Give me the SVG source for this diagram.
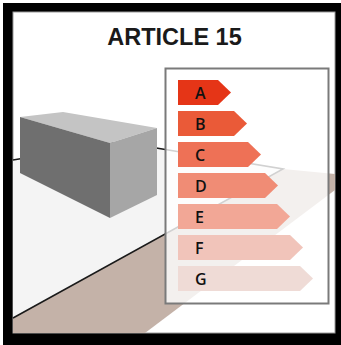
<svg xmlns="http://www.w3.org/2000/svg" width="341" height="345" viewBox="0 0 341 345">
  <style>
    .title { font-family: "Liberation Sans", Arial, sans-serif; font-weight: bold; font-size: 23.5px; fill: #1a1a1a; }
    .lbl { font-family: "Open Sans", "DejaVu Sans", sans-serif; font-weight: 600; font-size: 16px; fill: #111; }
    .edge { stroke: #1a1a1a; stroke-width: 1.6; fill: none; }
  </style>

  <!-- frame -->
  <rect x="3" y="3" width="338" height="342" fill="#000"/>
  <rect x="13" y="12" width="322" height="321" fill="#fff" stroke="#9a9a9a" stroke-width="1"/>

  <!-- title -->
  <text class="title" x="174.5" y="45" text-anchor="middle">ARTICLE 15</text>

  <!-- room scene -->
  <g id="scene">
    <polygon points="13,160 120,142 283,169 13,318" fill="#f4f4f4"/>
    <polygon points="13,318 283,169 335,174 335,190 145,333 13,333" fill="#c4b2a8"/>
    <polyline class="edge" points="13,160 120,142 283,169 13,318"/>
    <g id="box">
      <polygon points="20,117 63,112 157,128 110,143" fill="#c4c4c4"/>
      <polygon points="20,117 110,143 110,218 20,173" fill="#6f6f6f"/>
      <polygon points="110,143 157,128 157,195 110,218" fill="#a6a6a6"/>
    </g>
  </g>

  <!-- energy label -->
  <g id="label">
    <rect x="165.5" y="68.5" width="163" height="235" fill="#fff" fill-opacity="0.8" stroke="#7a7a7a" stroke-width="2"/>
    <g id="bar-a">
      <path d="M178,80 H218 L231,92.5 L218,105 H178 Z" fill="#e53517"/>
      <text class="lbl" x="195" y="99">A</text>
    </g>
    <g id="bar-b">
      <path d="M178,111 H234 L247,123.5 L234,136 H178 Z" fill="#ea5a38"/>
      <text class="lbl" x="195" y="130">B</text>
    </g>
    <g id="bar-c">
      <path d="M178,142 H248 L261,154.5 L248,167 H178 Z" fill="#ee7156"/>
      <text class="lbl" x="195" y="161">C</text>
    </g>
    <g id="bar-d">
      <path d="M178,173 H265 L278,185.5 L265,198 H178 Z" fill="#f08c75"/>
      <text class="lbl" x="195" y="192">D</text>
    </g>
    <g id="bar-e">
      <path d="M178,204 H277 L290,216.5 L277,229 H178 Z" fill="#f2a796"/>
      <text class="lbl" x="195" y="223">E</text>
    </g>
    <g id="bar-f">
      <path d="M178,235 H290 L303,247.5 L290,260 H178 Z" fill="#f1c4ba"/>
      <text class="lbl" x="195" y="254">F</text>
    </g>
    <g id="bar-g">
      <path d="M178,266 H300 L313,278.5 L300,291 H178 Z" fill="#efdbd6"/>
      <text class="lbl" x="195" y="285">G</text>
    </g>
  </g>
</svg>
